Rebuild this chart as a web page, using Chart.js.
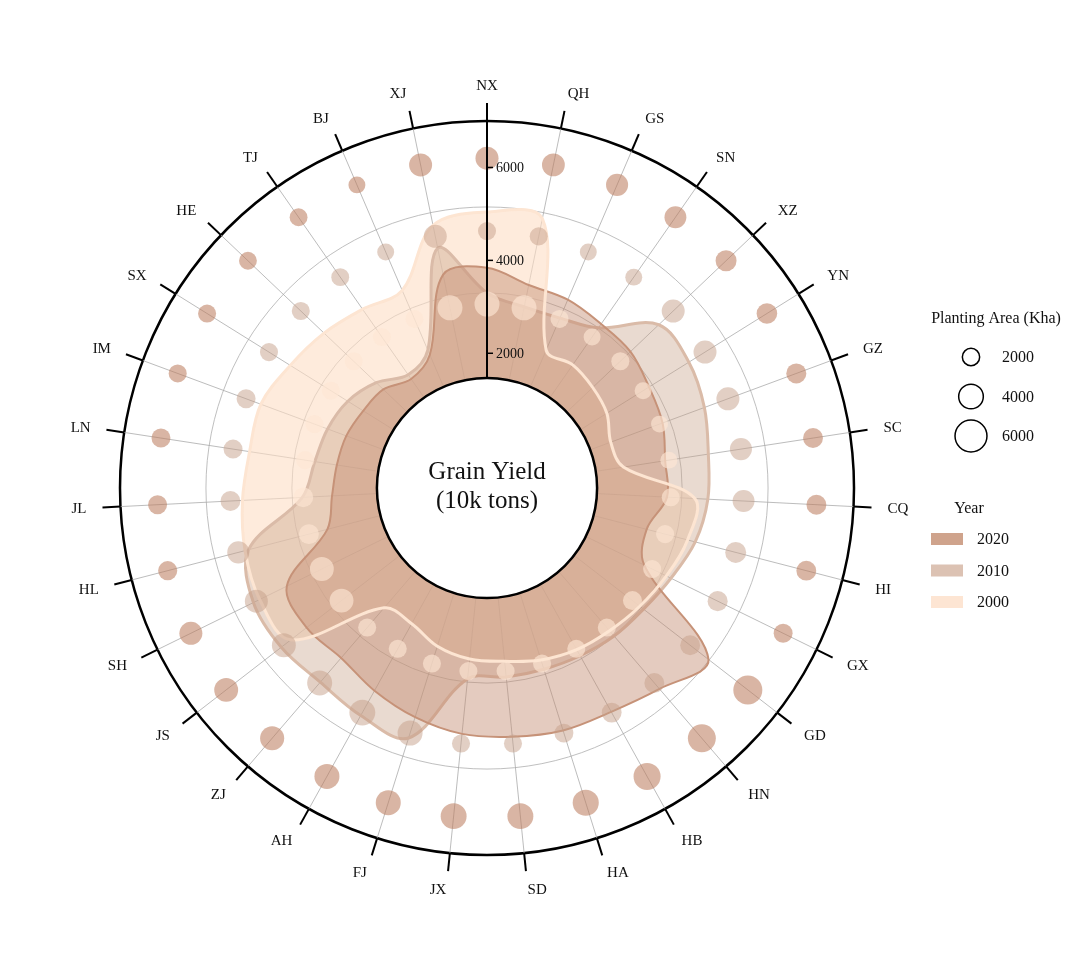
<!DOCTYPE html>
<html>
<head>
<meta charset="utf-8">
<title>Grain Yield</title>
<script src="https://cdn.jsdelivr.net/npm/chart.js@4.4.1/dist/chart.umd.min.js"></script>
<style>
  html, body { margin: 0; padding: 0; background: #fff; }
  #wrap { width: 1080px; height: 975px; position: relative; }
</style>
</head>
<body>
<div id="wrap"><canvas id="grafico"></canvas></div>
<script>
// provinces, clockwise from the top
var provinces = ["NX", "QH", "GS", "SN", "XZ", "YN", "GZ", "SC", "CQ", "HI", "GX", "GD", "HN", "HB", "HA", "SD",
                 "JX", "FJ", "AH", "ZJ", "JS", "SH", "HL", "JL", "LN", "IM", "SX", "HE", "TJ", "BJ", "XJ"];

// grain yield (10k tons)
var yield2020 = [3840, 3560, 3510, 3400, 3360, 3210, 3130, 2980, 2980, 2650, 2870, 5130, 4800, 4610, 4570, 4480,
                 4420, 4270, 4090, 3920, 4010, 3900, 2650, 2440, 2370, 2330, 2240, 2180, 1960, 2220, 3790];
var yield2010 = [3300, 3080, 3080, 3300, 4200, 4220, 4090, 3920, 3860, 3730, 3510, 3360, 3300, 3230, 3190, 3190,
                 3230, 4740, 4700, 4610, 4700, 4700, 4400, 3080, 2850, 2760, 2630, 2390, 2070, 2330, 4370];
var yield2000 = [5040, 5020, 2330, 2330, 2240, 2140, 1940, 2070, 3580, 3560, 3400, 3260, 3150, 3080, 2980, 2850,
                 2800, 2670, 2440, 2500, 4440, 4550, 4480, 4370, 4270, 4290, 4090, 3940, 3790, 3730, 4870];

// planting area (Kha)
var area2020 = [3550, 3500, 3300, 3250, 3000, 2900, 2750, 2700, 2700, 2700, 2450, 5200, 4900, 4650, 4400, 4350,
                4350, 4100, 4100, 3850, 3800, 3550, 2500, 2450, 2450, 2200, 2200, 2150, 2150, 1900, 3550];
var area2010 = [2200, 2200, 1900, 1900, 3550, 3550, 3550, 3300, 3250, 3000, 2750, 2700, 2700, 2700, 2450, 2200,
                2200, 4100, 4350, 4100, 3800, 3550, 3300, 2700, 2450, 2450, 2200, 2200, 2150, 1900, 3550];
var area2000 = [4100, 4100, 2200, 1900, 2200, 1900, 1900, 1900, 2200, 2200, 2200, 2450, 2200, 2200, 2200, 2200,
                2200, 2200, 2200, 2200, 3800, 3800, 2700, 2700, 2200, 2200, 2200, 2200, 2200, 2200, 4100];

var axisTicks = [2000, 4000, 6000];
var areaLegend = [2000, 4000, 6000];
var years = ["2020", "2010", "2000"];

// layout
var scaleMin = -900, scaleMax = 7000;
var holeValue = 1470;          // edge of the white centre
var gridValues = [3300, 5150]; // grey rings
var rings = { "2020": 6200, "2010": 4630, "2000": 3060 };
var serif = "'Liberation Serif', 'Times New Roman', serif";

var colors = {
    "2020": { fill: 'rgba(195, 140, 112, 0.45)', line: 'rgb(198, 146, 120)', dot: 'rgba(190, 128, 98, 0.58)', key: 'rgb(207, 163, 140)' },
    "2010": { fill: 'rgba(200, 162, 138, 0.4)', line: 'rgb(218, 187, 168)', dot: 'rgba(198, 160, 138, 0.5)', key: 'rgb(220, 194, 179)' },
    "2000": { fill: 'rgba(253, 222, 196, 0.6)', line: 'rgb(253, 229, 210)', dot: 'rgba(253, 230, 212, 0.65)', key: 'rgb(253, 229, 211)' }
};

function bubbleRadius(kha) {
    return 5 + kha * 0.00183;
}

function bubbles(year, areas) {
    return {
        label: year + ' planting area',
        data: provinces.map(function () { return rings[year]; }),
        showLine: false,
        fill: false,
        pointRadius: function (c) { return bubbleRadius(areas[c.dataIndex]); },
        pointBackgroundColor: colors[year].dot,
        pointBorderWidth: 0,
        pointBorderColor: 'rgba(0,0,0,0)'
    };
}

function shape(year, values, withLine) {
    return {
        label: year,
        data: values,
        fill: 'start',
        backgroundColor: colors[year].fill,
        borderColor: withLine ? colors[year].line : 'rgba(0,0,0,0)',
        borderWidth: withLine ? (year === "2020" ? 2 : 3) : 0,
        pointRadius: 0,
        tension: 0.35
    };
}

var decorations = {
    id: 'decorations',
    afterDatasetsDraw: function (chart) {
        var ctx = chart.ctx;
        var s = chart.scales.r;
        var cx = s.xCenter, cy = s.yCenter;
        var rHole = s.getDistanceFromCenterForValue(holeValue);
        var rOut = s.drawingArea;

        ctx.save();
        // white centre
        ctx.beginPath();
        ctx.arc(cx, cy, rHole, 0, Math.PI * 2);
        ctx.fillStyle = '#fff';
        ctx.fill();
        ctx.lineWidth = 2.5;
        ctx.strokeStyle = '#000';
        ctx.stroke();

        ctx.fillStyle = '#111';
        ctx.textAlign = 'center';
        ctx.textBaseline = 'middle';
        ctx.font = '25px ' + serif;
        ctx.fillText('Grain Yield', cx, cy - 16);
        ctx.fillText('(10k tons)', cx, cy + 13);

        // spoke ticks outside the ring
        ctx.lineWidth = 2;
        provinces.forEach(function (p, i) {
            var a = s.getPointPosition(i, i === 0 ? rHole : rOut);
            var b = s.getPointPosition(i, rOut + 18);
            ctx.beginPath();
            ctx.moveTo(a.x, a.y);
            ctx.lineTo(b.x, b.y);
            ctx.stroke();
        });

        // value ticks on the first spoke
        ctx.font = '14px ' + serif;
        ctx.textAlign = 'left';
        ctx.lineWidth = 1.5;
        axisTicks.forEach(function (v) {
            var p = s.getPointPosition(0, s.getDistanceFromCenterForValue(v));
            ctx.beginPath();
            ctx.moveTo(p.x, p.y);
            ctx.lineTo(p.x + 6, p.y);
            ctx.stroke();
            ctx.fillText(String(v), p.x + 9, p.y + 1);
        });

        // province names
        ctx.font = '15px ' + serif;
        provinces.forEach(function (name, i) {
            var ang = s.getIndexAngle(i);
            var sn = Math.sin(ang), cs = Math.cos(ang);
            var d = rOut + 34;
            ctx.textAlign = sn > 0.02 ? 'left' : (sn < -0.02 ? 'right' : 'center');
            ctx.fillText(name, cx + sn * d, cy - cs * d - cs * 2 + 1);
        });
        ctx.restore();
    },
    afterDraw: function (chart) {
        var ctx = chart.ctx;
        ctx.save();
        ctx.fillStyle = '#111';
        ctx.textBaseline = 'middle';

        ctx.font = '16px ' + serif;
        ctx.textAlign = 'center';
        ctx.fillText('Planting Area (Kha)', 996, 319);
        ctx.textAlign = 'left';
        ctx.strokeStyle = '#000';
        ctx.lineWidth = 1.5;
        areaLegend.forEach(function (v, i) {
            var y = 357 + i * 39.5;
            ctx.beginPath();
            ctx.arc(971, y, bubbleRadius(v), 0, Math.PI * 2);
            ctx.stroke();
            ctx.fillText(String(v), 1002, y + 1);
        });

        ctx.textAlign = 'center';
        ctx.fillText('Year', 969, 509);
        ctx.textAlign = 'left';
        years.forEach(function (y, i) {
            var yy = 539 + i * 31.5;
            ctx.fillStyle = colors[y].key;
            ctx.fillRect(931, yy - 6, 32, 12);
            ctx.fillStyle = '#111';
            ctx.fillText(y, 977, yy + 1);
        });
        ctx.restore();
    }
};

Chart.defaults.font.family = serif;

var ctx = document.getElementById('grafico');
var grafico = new Chart(ctx, {
    type: 'radar',
    data: {
        labels: provinces,
        datasets: [
            bubbles("2000", area2000),
            bubbles("2010", area2010),
            bubbles("2020", area2020),
            { label: '2000 line', data: yield2000, fill: false, borderColor: colors["2000"].line,
              borderWidth: 3, pointRadius: 0, tension: 0.35 },
            shape("2020", yield2020, true),
            shape("2010", yield2010, true),
            shape("2000", yield2000, false)
        ]
    },
    options: {
        responsive: true,
        maintainAspectRatio: false,
        animation: false,
        events: [],
        layout: { padding: { left: 120, right: 226, top: 121, bottom: 120 } },
        plugins: {
            legend: { display: false },
            tooltip: { enabled: false }
        },
        scales: {
            r: {
                min: scaleMin,
                max: scaleMax,
                startAngle: 0,
                afterBuildTicks: function (scale) {
                    scale.ticks = gridValues.concat([scaleMax]).map(function (v) { return { value: v }; });
                },
                ticks: { display: false },
                pointLabels: { display: false },
                angleLines: { color: 'rgba(165, 165, 165, 0.75)', lineWidth: 1 },
                grid: {
                    circular: true,
                    color: function (c) { return c.tick && c.tick.value === scaleMax ? '#000' : 'rgba(175, 175, 175, 0.8)'; },
                    lineWidth: function (c) { return c.tick && c.tick.value === scaleMax ? 2.5 : 1; }
                }
            }
        }
    },
    plugins: [decorations]
});
</script>
</body>
</html>
